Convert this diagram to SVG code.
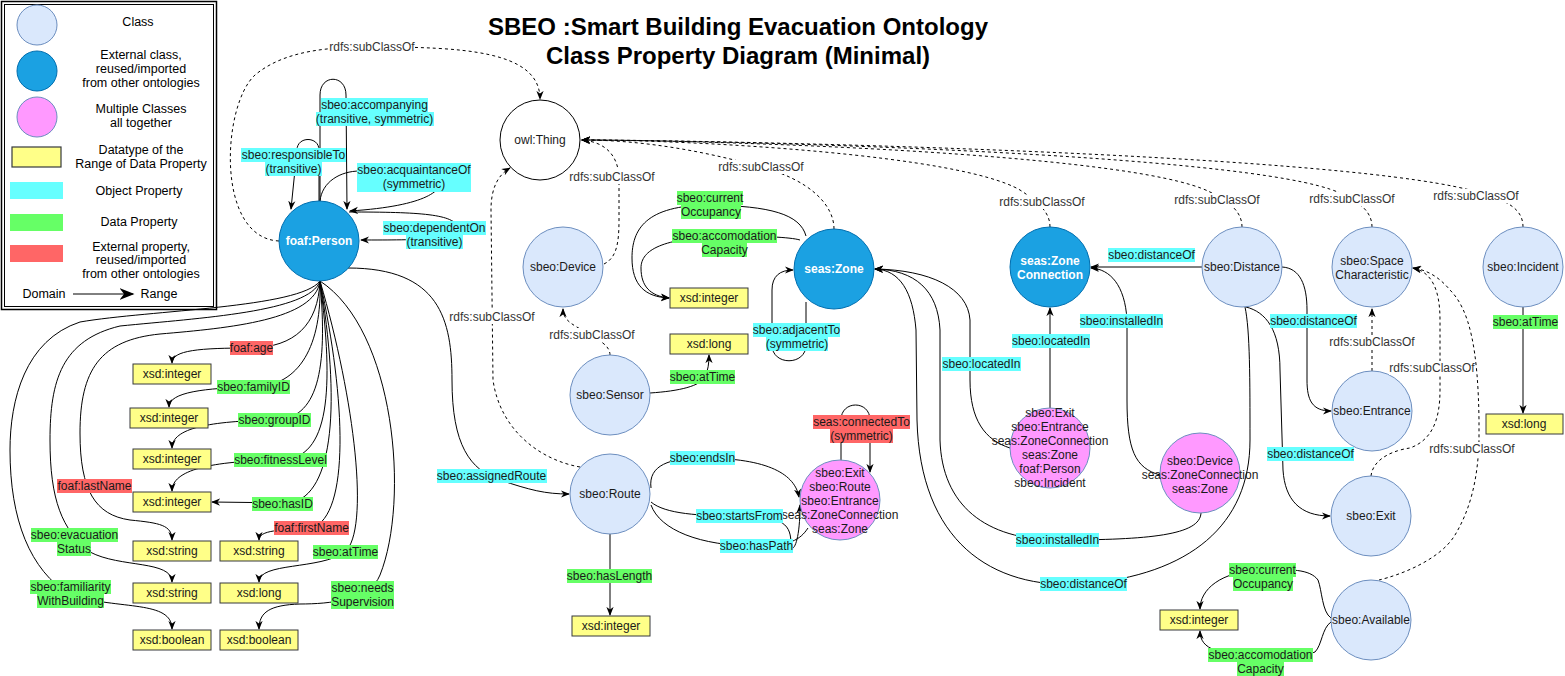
<svg xmlns="http://www.w3.org/2000/svg" width="1565" height="676" viewBox="0 0 1565 676">
<defs>
<marker id="a" viewBox="0 0 10 10" refX="9" refY="5" markerWidth="9" markerHeight="9" orient="auto" markerUnits="userSpaceOnUse"><path d="M0,1 L10,5 L0,9 L3,5 z" fill="#000"/></marker>
<marker id="aL" viewBox="0 0 10 10" refX="9" refY="5" markerWidth="15" markerHeight="15" orient="auto" markerUnits="userSpaceOnUse"><path d="M0,1 L10,5 L0,9 L3,5 z" fill="#000"/></marker>
</defs>
<style>
text{font-family:"Liberation Sans",Arial,sans-serif;font-size:12px;text-anchor:middle;dominant-baseline:central;fill:#1a1a1a}
.title{font-size:24px;font-weight:bold;fill:#000;dominant-baseline:auto}
.lg{font-size:12.5px;fill:#000}
.cls{fill:#DAE8FC;stroke:#6C8EBF}
.ext{fill:#1BA1E2;stroke:#006EAF}
.w{fill:#fff;font-weight:bold}
.multi{fill:#FF99FF;stroke:#6C8EBF}
.thing{fill:#fff;stroke:#000}
.dt{fill:#FFFF88;stroke:#36393D}
.e{fill:none;stroke:#000;stroke-width:1}
.ar{marker-end:url(#a)}
.dash{stroke-dasharray:3 3}
.op{fill:#66FFFF}
.dp{fill:#66FF66}
.xp{fill:#FF6666}
.wb{fill:#fff}
.sc{fill:#333}
</style>
<rect width="1565" height="676" fill="#fff"/>

<g id="legend">
<rect x="1.5" y="1.5" width="215" height="308" fill="#fff" stroke="#000" stroke-width="1.5"/>
<rect x="4.5" y="4.5" width="209" height="302" fill="none" stroke="#000"/>
<circle cx="37" cy="25" r="20" class="cls"/>
<text class="lg" x="138" y="22">Class</text>
<circle cx="37" cy="71" r="20" class="ext"/>
<text class="lg" x="141" y="55">External class,</text>
<text class="lg" x="141" y="69">reused/imported</text>
<text class="lg" x="141" y="83">from other ontologies</text>
<circle cx="37" cy="117" r="20" class="multi"/>
<text class="lg" x="141" y="109">Multiple Classes</text>
<text class="lg" x="141" y="123">all together</text>
<rect x="12" y="147" width="49" height="20" class="dt" stroke-width="1.2"/>
<text class="lg" x="141" y="150">Datatype of the</text>
<text class="lg" x="141" y="164">Range of Data Property</text>
<rect x="10" y="182" width="53" height="17" class="op"/>
<text class="lg" x="139" y="191">Object Property</text>
<rect x="10" y="214" width="53" height="17" class="dp"/>
<text class="lg" x="139" y="222">Data Property</text>
<rect x="10" y="245" width="53" height="17" class="xp"/>
<text class="lg" x="141" y="247">External property,</text>
<text class="lg" x="141" y="260">reused/imported</text>
<text class="lg" x="141" y="274">from other ontologies</text>
<text class="lg" x="44" y="294">Domain</text>
<path d="M73 294 L133 294" stroke="#000" marker-end="url(#aL)"/>
<text class="lg" x="159" y="294">Range</text>
</g>

<g id="title">
<text class="title" x="738" y="35">SBEO :Smart Building Evacuation Ontology</text>
<text class="title" x="738" y="64">Class Property Diagram (Minimal)</text>
</g>

<g id="connectors">
<!-- subClassOf (dashed) -->
<path class="e dash ar" d="M279 241 C215 238 222 105 255 75 C285 50 330 47 372 47 C460 47 540 50 540 99"/>
<path class="e dash ar" d="M580 467 C540 460 500 430 493 380 L491 210 C491 188 498 175 510 168"/>
<path class="e dash ar" d="M604 264 C616 258 619 245 619 220 L619 180 C619 155 605 142 582 140"/>
<path class="e dash ar" d="M834 229 C834 205 810 180 761 167 C700 150 640 140 582 140"/>
<path class="e dash ar" d="M1050 227 C1050 213 1040 203 1020 190 C960 155 700 140 582 140"/>
<path class="e dash ar" d="M1242 227 C1242 213 1232 203 1210 192 C1130 152 700 140 582 140"/>
<path class="e dash ar" d="M1372 227 C1372 213 1362 203 1340 193 C1250 152 700 140 582 140"/>
<path class="e dash ar" d="M1523 227 C1523 210 1510 200 1470 190 C1320 152 700 140 582 140"/>
<path class="e dash ar" d="M610 355 C610 345 598 340 590 335 C575 325 563 322 563 309"/>
<path class="e dash ar" d="M1372 371 L1372 309"/>
<path class="e dash ar" d="M1371 476 C1373 458 1395 450 1410 448 C1432 440 1440 420 1440 390 L1440 320 C1440 290 1432 272 1413 268"/>
<path class="e dash ar" d="M1379 580 C1400 575 1440 560 1455 535 C1470 510 1478 480 1479 440 L1479 420 C1478 350 1470 310 1450 290 C1440 278 1428 270 1413 268"/>

<!-- Person self loops -->
<path class="e ar" d="M319 201 L319 150 C319 136 297 136 297 150 L291 209"/>
<path class="e ar" d="M320 201 L320 95 C320 74 346 74 346 95 L347 209"/>
<path class="e ar" d="M320 201 C322 182 340 171 360 171 L440 171 C447 185 440 205 350 211"/>
<path class="e ar" d="M349 212 C420 212 455 214 458 228 C459 240 420 240 361 240"/>

<!-- Person data properties -->
<path class="e ar" d="M320 281 C318 325 295 347 251 348 C200 348 172 350 172 363"/>
<path class="e ar" d="M320 281 C322 345 300 386 254 387 C205 388 169 392 169 407"/>
<path class="e ar" d="M320 281 C328 370 318 420 274 420 C210 421 172 428 172 448"/>
<path class="e ar" d="M320 281 C334 390 330 459 281 460 C210 461 172 470 172 491"/>
<path class="e ar" d="M320 281 C340 400 335 495 290 503 L212 502"/>
<path class="e ar" d="M320 281 C346 400 350 515 312 528 C280 530 259 530 259 540"/>
<path class="e ar" d="M320 281 C355 400 370 530 345 552 C320 570 259 562 259 582"/>
<path class="e ar" d="M320 281 C395 330 410 500 380 575 C370 600 330 604 300 604 C270 605 259 612 259 629"/>
<path class="e ar" d="M320 281 C315 320 230 328 160 334 C100 340 80 370 80 433 C80 490 95 515 130 520 C160 523 172 525 172 540"/>
<path class="e ar" d="M320 281 C310 312 200 318 120 326 C62 340 50 380 50 440 C50 500 62 530 90 552 C120 568 172 560 172 582"/>
<path class="e ar" d="M320 281 C300 308 150 310 80 322 C25 340 10 400 10 450 C10 520 30 570 70 595 C120 610 172 600 172 629"/>
<path class="e ar" d="M348 268 C440 268 452 320 452 380 C452 445 470 470 500 480 C530 490 545 494 569 494"/>

<!-- Zone -->
<path class="e ar" d="M806 236 C800 214 770 206 710 205 C645 205 632 230 632 258 C632 285 645 297 669 298"/>
<path class="e ar" d="M800 240 C790 237 760 236 725 236 C662 238 641 250 641 268 C641 286 650 296 669 298"/>
<path class="e ar" d="M806 302 L806 345 C806 366 772 366 772 345 L772 290 C772 276 780 270 793 270"/>
<!-- Sensor -->
<path class="e ar" d="M650 393 C680 391 700 386 705 377 C708 370 709 364 709 355"/>
<!-- Route -->
<path class="e ar" d="M651 488 C648 465 670 458 702 458 C770 458 795 475 799 497"/>
<path class="e ar" d="M651 502 C665 514 700 516 739 516 C785 516 791 525 791 545 C791 553 800 548 800 505"/>
<path class="e" d="M651 505 C660 530 700 546 756 546 C790 546 800 540 808 528"/>
<path class="e ar" d="M610 534 L610 615"/>
<path class="e ar" d="M841 461 L841 420 C841 400 870 400 870 420 L870 472"/>
<!-- right side -->
<path class="e ar" d="M1010 448 C985 440 970 420 970 380 L970 320 C968 288 930 270 875 269"/>
<path class="e ar" d="M1050 408 L1050 308"/>
<path class="e ar" d="M1201 513 C1200 535 1150 540 1058 540 C985 540 942 505 940 440 L940 330 C938 290 915 270 875 269"/>
<path class="e ar" d="M1245 307 C1250 330 1250 380 1250 440 C1250 525 1190 575 1083 584 C990 590 920 540 917 420 L916 330 C913 292 900 270 875 269"/>
<path class="e ar" d="M1160 475 C1135 468 1127 450 1127 400 L1127 320 C1125 285 1110 269 1091 268"/>
<path class="e ar" d="M1202 267 L1091 267"/>
<path class="e ar" d="M1282 267 C1300 268 1307 285 1307 310 L1307 380 C1307 400 1312 411 1331 411"/>
<path class="e ar" d="M1246 307 C1266 312 1280 330 1280 370 L1283 470 C1285 500 1300 516 1330 516"/>
<path class="e ar" d="M1331 618 C1322 612 1322 590 1318 580 C1310 569 1290 569 1262 570 C1220 571 1200 590 1200 609"/>
<path class="e ar" d="M1331 622 C1322 628 1322 645 1315 652 C1305 656 1290 655 1260 655 C1220 655 1200 650 1200 631"/>
<path class="e ar" d="M1523 307 L1523 413"/>
</g>

<g id="node-thing"><circle cx="540" cy="140" r="40" class="thing"/><text x="540" y="140">owl:Thing</text></g>
<g id="node-person"><circle cx="319" cy="241" r="40" class="ext"/><text class="w" x="319" y="241">foaf:Person</text></g>
<g id="node-device"><circle cx="563" cy="267" r="40" class="cls"/><text x="563" y="267">sbeo:Device</text></g>
<g id="node-zone"><circle cx="834" cy="269" r="40" class="ext"/><text class="w" x="834" y="269">seas:Zone</text></g>
<g id="node-sensor"><circle cx="610" cy="395" r="40" class="cls"/><text x="610" y="395">sbeo:Sensor</text></g>
<g id="node-route"><circle cx="610" cy="494" r="40" class="cls"/><text x="610" y="494">sbeo:Route</text></g>
<g id="node-multi-route"><circle cx="840" cy="500" r="40" class="multi"/>
<text x="840" y="473">sbeo:Exit</text><text x="840" y="487">sbeo:Route</text><text x="840" y="501">sbeo:Entrance</text><text x="840" y="515">seas:ZoneConnection</text><text x="840" y="529">seas:Zone</text></g>
<g id="node-zoneconnection"><circle cx="1050" cy="267" r="40" class="ext"/><text class="w" x="1050" y="261">seas:Zone</text><text class="w" x="1050" y="275">Connection</text></g>
<g id="node-distance"><circle cx="1242" cy="267" r="40" class="cls"/><text x="1242" y="267">sbeo:Distance</text></g>
<g id="node-spacechar"><circle cx="1372" cy="267" r="40" class="cls"/><text x="1372" y="261">sbeo:Space</text><text x="1372" y="275">Characteristic</text></g>
<g id="node-incident"><circle cx="1523" cy="267" r="40" class="cls"/><text x="1523" y="267">sbeo:Incident</text></g>
<g id="node-entrance"><circle cx="1372" cy="411" r="40" class="cls"/><text x="1372" y="411">sbeo:Entrance</text></g>
<g id="node-exit"><circle cx="1371" cy="516" r="40" class="cls"/><text x="1371" y="516">sbeo:Exit</text></g>
<g id="node-available"><circle cx="1371" cy="620" r="40" class="cls"/><text x="1371" y="620">sbeo:Available</text></g>
<g id="node-multi-located"><circle cx="1050" cy="448" r="40" class="multi"/>
<text x="1050" y="413">sbeo:Exit</text><text x="1050" y="427">sbeo:Entrance</text><text x="1050" y="441">seas:ZoneConnection</text><text x="1050" y="455">seas:Zone</text><text x="1050" y="469">foaf:Person</text><text x="1050" y="483">sbeo:Incident</text></g>
<g id="node-multi-installed"><circle cx="1200" cy="473" r="40" class="multi"/>
<text x="1200" y="461">sbeo:Device</text><text x="1200" y="475">seas:ZoneConnection</text><text x="1200" y="489">seas:Zone</text></g>

<g id="datatypes">
<g id="dt-zone-int"><rect x="670" y="288" width="78" height="20" class="dt"/><text x="709" y="298">xsd:integer</text></g>
<g id="dt-sensor-long"><rect x="670" y="334" width="78" height="20" class="dt"/><text x="709" y="344">xsd:long</text></g>
<g id="dt-route-int"><rect x="572" y="616" width="78" height="20" class="dt"/><text x="611" y="626">xsd:integer</text></g>
<g id="dt-incident-long"><rect x="1486" y="414" width="77" height="20" class="dt"/><text x="1524" y="424">xsd:long</text></g>
<g id="dt-avail-int"><rect x="1160" y="610" width="78" height="20" class="dt"/><text x="1199" y="620">xsd:integer</text></g>
<g id="dt-age"><rect x="133" y="364" width="78" height="20" class="dt"/><text x="172" y="374">xsd:integer</text></g>
<g id="dt-family"><rect x="130" y="408" width="78" height="20" class="dt"/><text x="169" y="418">xsd:integer</text></g>
<g id="dt-group"><rect x="133" y="449" width="78" height="20" class="dt"/><text x="172" y="459">xsd:integer</text></g>
<g id="dt-fitness"><rect x="133" y="492" width="78" height="20" class="dt"/><text x="172" y="502">xsd:integer</text></g>
<g id="dt-lastname"><rect x="133" y="541" width="78" height="20" class="dt"/><text x="172" y="551">xsd:string</text></g>
<g id="dt-firstname"><rect x="220" y="541" width="78" height="20" class="dt"/><text x="259" y="551">xsd:string</text></g>
<g id="dt-evac"><rect x="133" y="583" width="78" height="20" class="dt"/><text x="172" y="593">xsd:string</text></g>
<g id="dt-attime"><rect x="220" y="583" width="78" height="20" class="dt"/><text x="259" y="593">xsd:long</text></g>
<g id="dt-familiarity"><rect x="133" y="630" width="78" height="20" class="dt"/><text x="172" y="640">xsd:boolean</text></g>
<g id="dt-needs"><rect x="220" y="630" width="78" height="20" class="dt"/><text x="259" y="640">xsd:boolean</text></g>
</g>

<g id="edge-labels">
<!-- subClassOf labels -->
<rect x="329" y="40" width="86" height="14" class="wb"/><text class="sc" x="372" y="47">rdfs:subClassOf</text>
<rect x="449" y="310" width="86" height="14" class="wb"/><text class="sc" x="492" y="317">rdfs:subClassOf</text>
<rect x="569" y="170" width="86" height="14" class="wb"/><text class="sc" x="612" y="177">rdfs:subClassOf</text>
<rect x="718" y="160" width="86" height="14" class="wb"/><text class="sc" x="761" y="167">rdfs:subClassOf</text>
<rect x="999" y="195" width="86" height="14" class="wb"/><text class="sc" x="1042" y="202">rdfs:subClassOf</text>
<rect x="1174" y="193" width="86" height="14" class="wb"/><text class="sc" x="1217" y="200">rdfs:subClassOf</text>
<rect x="1309" y="192" width="86" height="14" class="wb"/><text class="sc" x="1352" y="199">rdfs:subClassOf</text>
<rect x="1433" y="189" width="86" height="14" class="wb"/><text class="sc" x="1476" y="196">rdfs:subClassOf</text>
<rect x="549" y="328" width="86" height="14" class="wb"/><text class="sc" x="592" y="335">rdfs:subClassOf</text>
<rect x="1329" y="335" width="86" height="14" class="wb"/><text class="sc" x="1372" y="342">rdfs:subClassOf</text>
<rect x="1389" y="361" width="86" height="14" class="wb"/><text class="sc" x="1432" y="368">rdfs:subClassOf</text>
<rect x="1429" y="442" width="86" height="14" class="wb"/><text class="sc" x="1472" y="449">rdfs:subClassOf</text>

<!-- object properties -->
<rect x="241" y="148" width="105" height="14" class="op"/><text x="293.5" y="155">sbeo:responsibleTo</text>
<rect x="265" y="162" width="57" height="14" class="op"/><text x="293.5" y="169">(transitive)</text>
<rect x="321" y="98" width="107" height="14" class="op"/><text x="374.5" y="105">sbeo:accompanying</text>
<rect x="316" y="112" width="118" height="14" class="op"/><text x="374.5" y="119">(transitive, symmetric)</text>
<rect x="357" y="163" width="114" height="29" class="op"/><text x="414" y="170">sbeo:acquaintanceOf</text><text x="414" y="184">(symmetric)</text>
<rect x="383" y="221" width="103" height="14" class="op"/><text x="434.5" y="228">sbeo:dependentOn</text>
<rect x="406" y="235" width="57" height="14" class="op"/><text x="434.5" y="242">(transitive)</text>
<rect x="437" y="469" width="110" height="14" class="op"/><text x="491.5" y="476">sbeo:assignedRoute</text>
<rect x="670" y="451" width="65" height="14" class="op"/><text x="702.5" y="458">sbeo:endsIn</text>
<rect x="696" y="509" width="87" height="14" class="op"/><text x="739.5" y="516">sbeo:startsFrom</text>
<rect x="720" y="539" width="73" height="14" class="op"/><text x="756.5" y="546">sbeo:hasPath</text>
<rect x="753" y="323" width="87" height="14" class="op"/><text x="796.5" y="330">sbeo:adjacentTo</text>
<rect x="766" y="337" width="62" height="14" class="op"/><text x="797" y="344">(symmetric)</text>
<rect x="942" y="357" width="79" height="14" class="op"/><text x="981.5" y="364">sbeo:locatedIn</text>
<rect x="1012" y="334" width="78" height="14" class="op"/><text x="1051" y="341">sbeo:locatedIn</text>
<rect x="1080" y="314" width="83" height="14" class="op"/><text x="1121.5" y="321">sbeo:installedIn</text>
<rect x="1016" y="533" width="83" height="14" class="op"/><text x="1057.5" y="540">sbeo:installedIn</text>
<rect x="1040" y="577" width="87" height="14" class="op"/><text x="1083.5" y="584">sbeo:distanceOf</text>
<rect x="1108" y="248" width="87" height="14" class="op"/><text x="1151.5" y="255">sbeo:distanceOf</text>
<rect x="1270" y="314" width="87" height="14" class="op"/><text x="1313.5" y="321">sbeo:distanceOf</text>
<rect x="1267" y="447" width="87" height="14" class="op"/><text x="1310.5" y="454">sbeo:distanceOf</text>

<!-- data properties -->
<rect x="677" y="191" width="66" height="14" class="dp"/><text x="710" y="198">sbeo:current</text>
<rect x="681" y="205" width="60" height="14" class="dp"/><text x="711" y="212">Occupancy</text>
<rect x="672" y="229" width="105" height="14" class="dp"/><text x="724.5" y="236">sbeo:accomodation</text>
<rect x="702" y="243" width="45" height="14" class="dp"/><text x="724.5" y="250">Capacity</text>
<rect x="670" y="370" width="65" height="14" class="dp"/><text x="702.5" y="377">sbeo:atTime</text>
<rect x="567" y="569" width="85" height="14" class="dp"/><text x="609.5" y="576">sbeo:hasLength</text>
<rect x="1493" y="315" width="65" height="14" class="dp"/><text x="1525.5" y="322">sbeo:atTime</text>
<rect x="1229" y="563" width="67" height="14" class="dp"/><text x="1262.5" y="570">sbeo:current</text>
<rect x="1233" y="577" width="60" height="14" class="dp"/><text x="1263" y="584">Occupancy</text>
<rect x="1208" y="648" width="105" height="14" class="dp"/><text x="1260.5" y="655">sbeo:accomodation</text>
<rect x="1237" y="662" width="47" height="14" class="dp"/><text x="1260.5" y="669">Capacity</text>
<rect x="217" y="380" width="73" height="14" class="dp"/><text x="253.5" y="387">sbeo:familyID</text>
<rect x="238" y="413" width="73" height="14" class="dp"/><text x="274.5" y="420">sbeo:groupID</text>
<rect x="234" y="453" width="93" height="14" class="dp"/><text x="280.5" y="460">sbeo:fitnessLevel</text>
<rect x="252" y="497" width="61" height="14" class="dp"/><text x="282.5" y="504">sbeo:hasID</text>
<rect x="31" y="528" width="87" height="14" class="dp"/><text x="74.5" y="535">sbeo:evacuation</text>
<rect x="57" y="542" width="34" height="14" class="dp"/><text x="74" y="549">Status</text>
<rect x="313" y="545" width="65" height="14" class="dp"/><text x="345.5" y="552">sbeo:atTime</text>
<rect x="30" y="580" width="81" height="14" class="dp"/><text x="70.5" y="587">sbeo:familiarity</text>
<rect x="37" y="594" width="67" height="14" class="dp"/><text x="70.5" y="601">WithBuilding</text>
<rect x="331" y="581" width="63" height="14" class="dp"/><text x="362.5" y="588">sbeo:needs</text>
<rect x="331" y="595" width="63" height="14" class="dp"/><text x="362.5" y="602">Supervision</text>

<!-- external properties -->
<rect x="230" y="341" width="43" height="14" class="xp"/><text x="251.5" y="348">foaf:age</text>
<rect x="57" y="479" width="75" height="14" class="xp"/><text x="94.5" y="486">foaf:lastName</text>
<rect x="274" y="521" width="75" height="14" class="xp"/><text x="311.5" y="528">foaf:firstName</text>
<rect x="813" y="415" width="97" height="14" class="xp"/><text x="861.5" y="422">seas:connectedTo</text>
<rect x="830" y="429" width="63" height="14" class="xp"/><text x="861.5" y="436">(symmetric)</text>
</g>
</svg>
